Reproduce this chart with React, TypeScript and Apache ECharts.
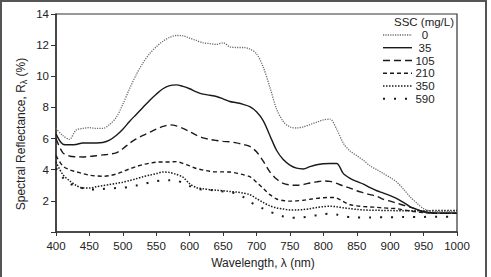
import React, { useEffect, useRef } from "react";
import * as echarts from "echarts";

const wavelengths = [
  400, 410, 420, 430, 440, 450, 460, 470, 480, 490, 500, 510, 520, 530, 540, 550, 560, 570, 580, 590,
  600, 610, 620, 630, 640, 650, 660, 670, 680, 690, 700, 710, 720, 730, 740, 750, 760, 770, 780, 790,
  800, 810, 820, 830, 840, 850, 860, 870, 880, 890, 900, 910, 920, 930, 940, 950, 960, 970, 980, 990, 1000,
];

const ssc0 = [
  6.65, 6.2, 5.95, 6.55, 6.65, 6.7, 6.65, 6.65, 6.9, 7.35, 8.2, 9.2, 10.1, 10.85, 11.45, 11.9, 12.25, 12.5, 12.62, 12.6,
  12.45, 12.3, 12.15, 12.1, 12.05, 12.15, 11.9, 11.85, 11.85, 11.75, 11.45, 10.6, 9.3, 7.9, 7.1, 6.75, 6.68, 6.75, 6.9, 7.05,
  7.2, 7.25, 6.6, 5.7, 5.2, 4.9, 4.6, 4.25, 4.0, 3.75, 3.5, 3.2, 2.75, 2.25, 1.85, 1.5, 1.35, 1.3, 1.3, 1.3, 1.3,
];
const ssc35 = [
  6.3, 5.65, 5.6, 5.62, 5.72, 5.72, 5.72, 5.75, 5.9, 6.2, 6.6, 7.1, 7.55, 8.0, 8.45, 8.85, 9.2, 9.4, 9.45, 9.35,
  9.2, 9.0, 8.85, 8.78, 8.7, 8.55, 8.38, 8.3, 8.2, 8.05, 7.72, 7.15, 6.2, 5.25, 4.65, 4.3, 4.1, 4.05, 4.2, 4.32,
  4.38, 4.4, 4.4, 3.75, 3.45, 3.25, 3.08, 2.85, 2.65, 2.5, 2.33, 2.15, 1.9, 1.62, 1.45, 1.3, 1.25, 1.22, 1.22, 1.22, 1.22,
];
const ssc105 = [
  6.0, 5.1, 4.88, 4.83, 4.82, 4.85, 4.9, 4.95, 5.0, 5.08, 5.35, 5.7, 5.98, 6.2, 6.4, 6.6, 6.78, 6.88, 6.82, 6.65,
  6.45, 6.22, 6.05, 5.95, 5.88, 5.82, 5.79, 5.72, 5.62, 5.5, 5.15, 4.55, 3.86, 3.4, 3.12, 3.02, 3.0, 3.05, 3.15, 3.22,
  3.28, 3.25, 3.12, 2.95, 2.82, 2.65, 2.52, 2.4, 2.3, 2.1, 1.98, 1.85, 1.72, 1.6, 1.45, 1.3, 1.22, 1.2, 1.2, 1.2, 1.2,
];
const ssc210 = [
  4.9, 4.25, 4.0, 3.87, 3.75, 3.65, 3.6, 3.58, 3.62, 3.72, 3.88, 4.05, 4.2, 4.33, 4.42, 4.48, 4.5, 4.5, 4.52, 4.4,
  4.25, 4.08, 3.98, 3.9, 3.86, 3.86, 3.85, 3.78, 3.68, 3.55, 3.2, 2.8, 2.4, 2.12, 2.02, 1.98, 2.0, 2.04, 2.1, 2.16,
  2.2, 2.22, 2.18, 1.95, 1.75, 1.68, 1.64, 1.61, 1.58, 1.55, 1.52, 1.5, 1.42, 1.35, 1.29, 1.25, 1.2, 1.2, 1.2, 1.2, 1.2,
];
const ssc350 = [
  4.5, 3.7, 3.3, 3.0, 2.82, 2.82, 2.9, 2.98, 3.05, 3.12, 3.2, 3.3, 3.42, 3.55, 3.65, 3.75, 3.85, 3.82, 3.7, 3.52,
  3.1, 2.85, 2.78, 2.72, 2.68, 2.65, 2.6, 2.57, 2.5, 2.4, 2.15, 1.9, 1.68, 1.55, 1.48, 1.42, 1.42, 1.44, 1.5, 1.57,
  1.63, 1.65, 1.62, 1.55, 1.5, 1.45, 1.42, 1.4, 1.4, 1.38, 1.38, 1.37, 1.37, 1.36, 1.36, 1.36, 1.37, 1.38, 1.38, 1.38, 1.38,
];
const ssc590 = [
  4.1, 3.5, 3.12, 2.95, 2.82, 2.74, 2.72, 2.76, 2.8, 2.82, 2.84, 2.9, 2.98, 3.08, 3.18, 3.26, 3.32, 3.33, 3.3, 3.15,
  2.95, 2.78, 2.72, 2.7, 2.65, 2.6, 2.57, 2.45, 2.25, 1.95, 1.7, 1.5, 1.3, 1.15, 1.0, 0.93, 0.92, 0.95, 1.0, 1.08,
  1.15, 1.18, 1.12, 1.02, 0.96, 0.93, 0.93, 0.93, 0.94, 0.94, 0.95, 0.95, 0.96, 0.96, 0.97, 0.97, 0.98, 0.98, 0.98, 0.98, 0.98,
];

const seriesNames = ["0", "35", "105", "210", "350", "590"];
const seriesValues = [ssc0, ssc35, ssc105, ssc210, ssc350, ssc590];
const xTicks = [400, 1000, 50];
const yTicks = [0, 14, 2];

const FONT = "Liberation Sans";
const styles: any[] = [
  { color: "#6a6a6a", width: 1.3, type: [1.2, 1.2] },
  { color: "#1a1a1a", width: 1.4, type: "solid" },
  { color: "#1a1a1a", width: 1.4, type: [7, 4] },
  { color: "#1a1a1a", width: 1.4, type: [4, 3] },
  { color: "#1a1a1a", width: 1.5, type: [1.5, 1.5] },
  { color: "#1a1a1a", width: 2, type: [2, 9] },
];

export default function App() {
  const ref = useRef<HTMLDivElement>(null);
  useEffect(() => {
    const chart = echarts.init(ref.current!, undefined, { renderer: "svg" });
    const legendGraphics: any[] = [];
    const rowY = [35, 47.7, 60.5, 73.3, 86, 98.8];
    seriesNames.forEach((n, i) => {
      legendGraphics.push({
        type: "line",
        shape: { x1: 383, y1: rowY[i], x2: 412, y2: rowY[i] },
        style: { stroke: styles[i].color, lineWidth: styles[i].width, lineDash: styles[i].type === "solid" ? null : styles[i].type },
      });
      legendGraphics.push({
        type: "text",
        x: 425,
        y: rowY[i],
        style: { text: n, font: `11.5px "${FONT}"`, fill: "#222", align: "center", verticalAlign: "middle" },
      });
    });
    chart.setOption({
      animation: false,
      backgroundColor: "#fff",
      grid: { left: 56, right: 34, top: 14, bottom: 45, show: true, borderColor: "#333", borderWidth: 1.2, backgroundColor: "transparent" },
      xAxis: {
        type: "value",
        min: xTicks[0],
        max: xTicks[1],
        interval: xTicks[2],
        axisLine: { lineStyle: { color: "#333", width: 1.5 } },
        axisTick: { show: true, length: 4, lineStyle: { color: "#333" } },
        axisLabel: { color: "#222", fontSize: 11.5, fontFamily: FONT, margin: 8, formatter: (v: number) => String(v) },
        splitLine: { show: false },
      },
      yAxis: {
        type: "value",
        min: yTicks[0],
        max: yTicks[1],
        interval: yTicks[2],
        axisLine: { show: true, lineStyle: { color: "#333", width: 1.5 } },
        axisTick: { show: true, length: 5, lineStyle: { color: "#333" } },
        axisLabel: { color: "#222", fontSize: 11.5, fontFamily: FONT, margin: 7, formatter: (v: number) => (v === 0 ? "" : String(v)) },
        splitLine: { show: false },
      },
      series: seriesNames.map((n, i) => ({
        name: n,
        type: "line",
        showSymbol: false,
        symbol: "none",
        smooth: 0.3,
        data: wavelengths.map((w, j) => [w, seriesValues[i][j]]),
        lineStyle: { color: styles[i].color, width: styles[i].width, type: styles[i].type },
        z: 10 - i,
      })),
      graphic: [
        {
          type: "rect",
          shape: { x: 1, y: 1, width: 485, height: 280 },
          style: { fill: "none", stroke: "#555", lineWidth: 2 },
          silent: true,
        },
        {
          type: "text",
          x: 424,
          y: 22,
          style: { text: "SSC (mg/L)", font: `11.5px "${FONT}"`, fill: "#222", align: "center", verticalAlign: "middle" },
        },
        ...legendGraphics,
        {
          type: "text",
          x: 263,
          y: 263,
          style: { text: "Wavelength, λ (nm)", font: `12px "${FONT}"`, fill: "#222", align: "center", verticalAlign: "middle" },
        },
        {
          type: "text",
          x: 21,
          y: 134,
          rotation: Math.PI / 2,
          style: {
            text: "{a|Spectral Reflectance, R}{s|λ}{a| (%)}",
            align: "center",
            verticalAlign: "middle",
            rich: {
              a: { fontFamily: FONT, fontSize: 12, fill: "#222", color: "#222" },
              s: { fontFamily: FONT, fontSize: 9, fill: "#222", color: "#222", padding: [5, 0, 0, 0] },
            },
          },
        },
      ],
    });
    return () => chart.dispose();
  }, []);
  return <div ref={ref} style={{ position: "fixed", left: 0, top: 0, width: 491, height: 277 }} />;
}
